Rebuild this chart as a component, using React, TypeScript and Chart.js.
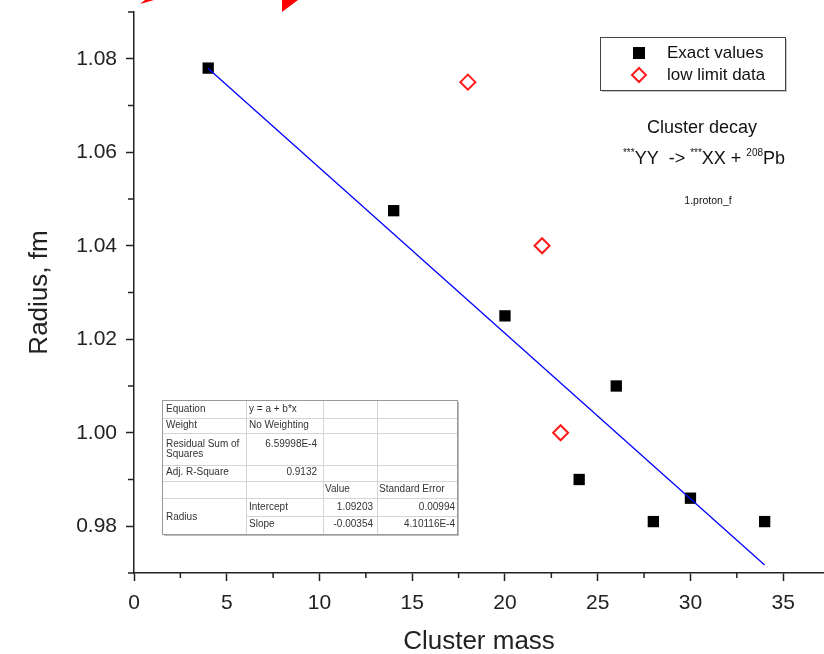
import React, { useEffect, useRef } from "react";
import { Chart, registerables } from "chart.js";
Chart.register(...registerables);

// ---- data ----
const exactMass = [4, 14, 20, 24, 26, 28, 30, 34];
const exactRadius = [1.078, 1.0475, 1.025, 0.99, 1.01, 0.981, 0.986, 0.981];
const lowMass = [18, 22, 23];
const lowRadius = [1.075, 1.04, 1.0];
const fitMass = [4, 34];
const fitRadius = [1.0779, 0.9717];
const xTickValues = [0, 2.5, 5, 7.5, 10, 12.5, 15, 17.5, 20, 22.5, 25, 27.5, 30, 32.5, 35];
const yTickValues = [0.97, 0.98, 0.99, 1.0, 1.01, 1.02, 1.03, 1.04, 1.05, 1.06, 1.07, 1.08, 1.09];

const seriesLabels = ["Exact values", "low limit data"];
const noteTitle = "Cluster decay";
const noteSub = "1.proton_f";

const fitStatLabels = ["Equation", "Weight", "Residual Sum of", "Adj. R-Square"];
const fitStatValues = ["y = a + b*x", "No Weighting", "6.59998E-4", "0.9132"];
const paramHeaders = ["Value", "Standard Error"];
const paramGroup = "Radius";
const paramNames = ["Intercept", "Slope"];
const paramValues = ["1.09203", "-0.00354"];
const paramErrors = ["0.00994", "4.10116E-4"];

const FONT = "'Liberation Sans', Arial, Helvetica, sans-serif";

const decorPlugin = {
  id: "decor",
  afterDraw(chart: any) {
    const ctx = chart.ctx as CanvasRenderingContext2D;
    const xs = chart.scales.x;
    const ys = chart.scales.y;
    ctx.save();

    // minor ticks
    ctx.strokeStyle = "#222";
    ctx.lineWidth = 1.5;
    const axisY = ys.getPixelForValue(ys.min);
    const axisX = xs.getPixelForValue(xs.min);
    xTickValues.forEach((v) => {
      if (v % 5 !== 0) {
        const px = xs.getPixelForValue(v);
        ctx.beginPath();
        ctx.moveTo(px, axisY);
        ctx.lineTo(px, axisY + 5);
        ctx.stroke();
      }
    });
    yTickValues.forEach((v) => {
      if (Math.round(v * 100) % 2 !== 0) {
        const py = ys.getPixelForValue(v);
        ctx.beginPath();
        ctx.moveTo(axisX, py);
        ctx.lineTo(axisX - 6, py);
        ctx.stroke();
      }
    });

    // red arrow heads at top (cropped)
    ctx.fillStyle = "#ff0000";
    ctx.beginPath();
    ctx.moveTo(282, 12);
    ctx.lineTo(282, 0);
    ctx.lineTo(298, 0);
    ctx.closePath();
    ctx.fill();
    ctx.beginPath();
    ctx.moveTo(140, 4);
    ctx.lineTo(145, 0);
    ctx.lineTo(154, 0);
    ctx.closePath();
    ctx.fill();

    // legend
    const lx = 600, ly = 37, lw = 185, lh = 53;
    ctx.fillStyle = "#c8c8c8";
    ctx.fillRect(lx + 2, ly + 2, lw, lh);
    ctx.fillStyle = "#fff";
    ctx.fillRect(lx, ly, lw, lh);
    ctx.strokeStyle = "#444";
    ctx.lineWidth = 1;
    ctx.strokeRect(lx + 0.5, ly + 0.5, lw, lh);
    const ds = chart.data.datasets;
    ctx.fillStyle = ds[0].backgroundColor;
    ctx.fillRect(633, 47, 12, 12);
    ctx.strokeStyle = ds[1].borderColor;
    ctx.lineWidth = 2;
    ctx.beginPath();
    ctx.moveTo(639, 68);
    ctx.lineTo(646, 75);
    ctx.lineTo(639, 82);
    ctx.lineTo(632, 75);
    ctx.closePath();
    ctx.stroke();
    ctx.fillStyle = "#111";
    ctx.font = `17px ${FONT}`;
    ctx.textAlign = "left";
    ctx.textBaseline = "middle";
    ctx.fillText(ds[0].label, 667, 53);
    ctx.fillText(ds[1].label, 667, 75);

    // annotation
    ctx.textAlign = "center";
    ctx.font = `18px ${FONT}`;
    ctx.fillText(noteTitle, 702, 128);
    const pieces: [string, boolean][] = [
      ["***", true],
      ["YY  -> ", false],
      ["***", true],
      ["XX + ", false],
      ["208", true],
      ["Pb", false],
    ];
    const mainFont = `18px ${FONT}`;
    const supFont = `10px ${FONT}`;
    let total = 0;
    pieces.forEach(([t, s]) => {
      ctx.font = s ? supFont : mainFont;
      total += ctx.measureText(t).width;
    });
    let cx = 704 - total / 2;
    const base = 164;
    ctx.textAlign = "left";
    ctx.textBaseline = "alphabetic";
    pieces.forEach(([t, s]) => {
      ctx.font = s ? supFont : mainFont;
      ctx.fillText(t, cx, s ? base - 8 : base);
      cx += ctx.measureText(t).width;
    });
    ctx.textAlign = "center";
    ctx.textBaseline = "middle";
    ctx.font = `10.5px ${FONT}`;
    ctx.fillText(noteSub, 708, 201);

    // fit table
    const tx = 162, ty = 400;
    const cols = [0, 84, 161, 215, 295];
    const rows = [0, 18, 33, 65, 81, 98, 116, 134];
    const W = cols[4], H = rows[7];
    ctx.fillStyle = "#bdbdbd";
    ctx.fillRect(tx + 2, ty + 2, W, H);
    ctx.fillStyle = "#fff";
    ctx.fillRect(tx, ty, W, H);
    ctx.strokeStyle = "#d4d4d4";
    ctx.lineWidth = 1;
    for (let i = 1; i < rows.length - 1; i++) {
      ctx.beginPath();
      const startX = i === 6 ? tx + cols[1] : tx;
      ctx.moveTo(startX, ty + rows[i] + 0.5);
      ctx.lineTo(tx + W, ty + rows[i] + 0.5);
      ctx.stroke();
    }
    for (let j = 1; j < cols.length - 1; j++) {
      ctx.beginPath();
      ctx.moveTo(tx + cols[j] + 0.5, ty);
      ctx.lineTo(tx + cols[j] + 0.5, ty + H);
      ctx.stroke();
    }
    ctx.strokeStyle = "#999";
    ctx.strokeRect(tx + 0.5, ty + 0.5, W, H);

    ctx.fillStyle = "#333";
    ctx.font = `10px ${FONT}`;
    ctx.textBaseline = "middle";
    const L0 = tx + 4, L1 = tx + cols[1] + 3, R1 = tx + cols[2] - 6;
    const L2 = tx + cols[2] + 2, L3 = tx + cols[3] + 2;
    const R2 = tx + cols[3] - 4, R3 = tx + cols[4] - 2;
    const rowMid = [409, 425.5, 444, 472.5];
    ctx.textAlign = "left";
    fitStatLabels.forEach((t, i) => ctx.fillText(t, L0, rowMid[i]));
    ctx.fillText("Squares", L0, 454);
    ctx.fillText(fitStatValues[0], L1, rowMid[0]);
    ctx.fillText(fitStatValues[1], L1, rowMid[1]);
    ctx.textAlign = "right";
    ctx.fillText(fitStatValues[2], R1, rowMid[2]);
    ctx.fillText(fitStatValues[3], R1, rowMid[3]);
    ctx.textAlign = "left";
    ctx.fillText(paramHeaders[0], L2, 489);
    ctx.fillText(paramHeaders[1], L3, 489);
    ctx.fillText(paramGroup, L0, 517);
    const pMid = [507, 524.5];
    paramNames.forEach((t, i) => {
      ctx.textAlign = "left";
      ctx.fillText(t, L1, pMid[i]);
      ctx.textAlign = "right";
      ctx.fillText(paramValues[i], R2, pMid[i]);
      ctx.fillText(paramErrors[i], R3, pMid[i]);
    });

    ctx.restore();
  },
};

export default function App() {
  const ref = useRef<HTMLCanvasElement | null>(null);
  useEffect(() => {
    if (!ref.current) return;
    const toPts = (xs: number[], ys: number[]) => xs.map((x, i) => ({ x, y: ys[i] }));
    const chart = new Chart(ref.current, {
      type: "scatter",
      data: {
        datasets: [
          {
            label: seriesLabels[0],
            data: toPts(exactMass, exactRadius),
            pointStyle: "rect",
            pointRadius: 8,
            backgroundColor: "#000",
            borderColor: "#000",
            borderWidth: 0,
            order: 1,
          },
          {
            label: seriesLabels[1],
            data: toPts(lowMass, lowRadius),
            pointStyle: "rectRot",
            pointRadius: 7.5,
            backgroundColor: "rgba(255,255,255,0)",
            borderColor: "#ff1a1a",
            borderWidth: 2,
            order: 2,
          },
          {
            label: "fit",
            data: toPts(fitMass, fitRadius),
            showLine: true,
            pointRadius: 0,
            borderColor: "#0000ff",
            borderWidth: 1.3,
            order: 0,
          } as any,
        ],
      },
      options: {
        responsive: false,
        animation: false,
        layout: { autoPadding: false, padding: { left: 0, right: 0, top: 12, bottom: 0 } },
        plugins: { legend: { display: false }, tooltip: { enabled: false } },
        scales: {
          x: {
            type: "linear",
            min: 0,
            max: 37.2,
            afterBuildTicks: (s: any) => {
              s.ticks = xTickValues.map((v) => ({ value: v }));
            },
            afterFit: (s: any) => {
              s.height = 81;
              s.paddingLeft = 0;
              s.paddingRight = 0;
            },
            ticks: {
              autoSkip: false,
              maxRotation: 0,
              padding: 10,
              color: "#222",
              font: { size: 21, family: FONT },
              callback: (v: any) => (Number(v) % 5 === 0 ? String(v) : ""),
            },
            grid: {
              drawOnChartArea: false,
              drawTicks: true,
              tickLength: 8,
              tickWidth: 1.5,
              tickColor: (c: any) => (c.tick && c.tick.value % 5 === 0 ? "#222" : "rgba(0,0,0,0)"),
            },
            border: { display: true, color: "#222", width: 1.5 },
            title: {
              display: true,
              text: "Cluster mass",
              color: "#222",
              font: { size: 26, family: FONT, lineHeight: 0.9 },
              padding: { top: 0, bottom: 0 },
            },
          },
          y: {
            type: "linear",
            min: 0.97,
            max: 1.09,
            afterBuildTicks: (s: any) => {
              s.ticks = yTickValues.map((v) => ({ value: v }));
            },
            afterFit: (s: any) => {
              s.width = 134;
              s.paddingTop = 0;
              s.paddingBottom = 0;
            },
            ticks: {
              autoSkip: false,
              padding: 9,
              color: "#222",
              font: { size: 21, family: FONT },
              callback: (v: any) => (Math.round(Number(v) * 100) % 2 === 0 ? Number(v).toFixed(2) : ""),
            },
            grid: {
              drawOnChartArea: false,
              drawTicks: true,
              tickLength: 8,
              tickWidth: 1.5,
              tickColor: (c: any) =>
                c.tick && Math.round(c.tick.value * 100) % 2 === 0 ? "#222" : "rgba(0,0,0,0)",
            },
            border: { display: true, color: "#222", width: 1.5 },
            title: {
              display: true,
              text: "Radius, fm",
              color: "#222",
              font: { size: 26, family: FONT, lineHeight: 0.9 },
              padding: { top: 28, bottom: 0 },
            },
          },
        },
      },
      plugins: [decorPlugin],
    });
    return () => chart.destroy();
  }, []);
  return (
    <div style={{ position: "fixed", left: 0, top: 0, width: 824, height: 654, background: "#fff" }}>
      <canvas ref={ref} width={824} height={654} style={{ display: "block" }} />
    </div>
  );
}
